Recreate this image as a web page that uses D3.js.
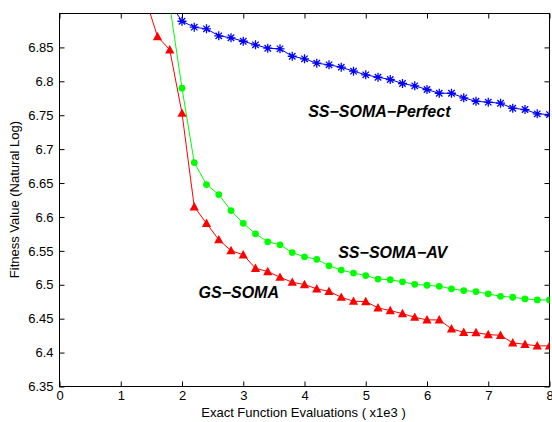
<!DOCTYPE html>
<html>
<head>
<meta charset="utf-8">
<script src="https://cdnjs.cloudflare.com/ajax/libs/d3/7.8.5/d3.min.js"></script>
<style>
body { margin: 0; background: #fff; }
svg text { font-family: "Liberation Sans", Arial, Helvetica, sans-serif; }
</style>
</head>
<body>
<script>
// function evaluations (x1e3)
var evalsGS = [1.4, 1.6, 1.8, 2.0, 2.2, 2.4, 2.6, 2.8, 3.0, 3.2, 3.4, 3.6, 3.8, 4.0, 4.2, 4.4, 4.6, 4.8,
               5.0, 5.2, 5.4, 5.6, 5.8, 6.0, 6.2, 6.4, 6.6, 6.8, 7.0, 7.2, 7.4, 7.6, 7.8, 8.0];
var evalsSS = [1.8, 2.0, 2.2, 2.4, 2.6, 2.8, 3.0, 3.2, 3.4, 3.6, 3.8, 4.0, 4.2, 4.4, 4.6, 4.8,
               5.0, 5.2, 5.4, 5.6, 5.8, 6.0, 6.2, 6.4, 6.6, 6.8, 7.0, 7.2, 7.4, 7.6, 7.8, 8.0];

var gsSoma = [6.923, 6.866, 6.8465, 6.753, 6.615, 6.5906, 6.5664, 6.5504, 6.5442, 6.5243, 6.5195, 6.5111,
              6.5037, 6.5003, 6.494, 6.4904, 6.4816, 6.4757, 6.4752, 6.4659, 6.4619, 6.4575, 6.4521, 6.4482,
              6.4482, 6.435, 6.4299, 6.4295, 6.4265, 6.4255, 6.4143, 6.4122, 6.4099, 6.4099];
var ssSomaAV = [6.912, 6.7898, 6.6802, 6.6478, 6.633, 6.6094, 6.5906, 6.5751, 6.5633, 6.559, 6.5475, 6.5412,
                6.5376, 6.528, 6.5217, 6.5173, 6.5136, 6.5084, 6.5074, 6.5044, 6.5006, 6.4993, 6.4978, 6.494,
                6.4914, 6.49, 6.4866, 6.483, 6.4816, 6.4792, 6.4777, 6.4777];
var ssSomaPerfect = [6.916, 6.8886, 6.8798, 6.8774, 6.8671, 6.8642, 6.8591, 6.8538, 6.8488, 6.8479, 6.837, 6.8332,
                     6.8267, 6.8243, 6.8208, 6.8149, 6.8096, 6.806, 6.8027, 6.7968, 6.7934, 6.7879, 6.7824, 6.7824,
                     6.7757, 6.7706, 6.7692, 6.7677, 6.7603, 6.7584, 6.7521, 6.751];

var xTicks = [0, 1, 2, 3, 4, 5, 6, 7, 8];
var yTicks = [6.35, 6.4, 6.45, 6.5, 6.55, 6.6, 6.65, 6.7, 6.75, 6.8, 6.85];
var xDomain = [0, 8];
var yDomain = [6.35, 6.9];

var labelNames = ["SS\u2212SOMA\u2212Perfect", "SS\u2212SOMA\u2212AV", "GS\u2212SOMA"];
var labelX = [4.06, 4.55, 2.27];
var labelY = [6.748, 6.54, 6.48];

var margin = {top: 13, right: 2, bottom: 36, left: 59},
    width = 552 - margin.left - margin.right,
    height = 422 - margin.top - margin.bottom,
    tick = 5;

var svg = d3.select("body").append("svg")
    .attr("width", 552)
    .attr("height", 422);

var g = svg.append("g")
    .attr("transform", "translate(" + (margin.left + 0.5) + "," + (margin.top + 0.5) + ")");

var x = d3.scaleLinear().domain(xDomain).range([0, width - 1]);
var y = d3.scaleLinear().domain(yDomain).range([height, 0]);

g.append("clipPath").attr("id", "plotclip")
    .append("rect")
    .attr("x", 0).attr("y", 0)
    .attr("width", width - 1).attr("height", height);

// axes, ticks pointing inwards on all four sides
var fmt = function(d) { return d3.format("~g")(d); };

g.append("g")
    .attr("transform", "translate(0," + height + ")")
    .call(d3.axisBottom(x).tickValues(xTicks).tickFormat(fmt).tickSizeInner(-tick).tickSizeOuter(0).tickPadding(4))
    .call(function(a) { a.select(".domain").remove(); });

g.append("g")
    .call(d3.axisTop(x).tickValues(xTicks).tickFormat("").tickSizeInner(-tick).tickSizeOuter(0))
    .call(function(a) { a.select(".domain").remove(); });

g.append("g")
    .call(d3.axisLeft(y).tickValues(yTicks).tickFormat(fmt).tickSizeInner(-tick).tickSizeOuter(0).tickPadding(6))
    .call(function(a) { a.select(".domain").remove(); });

g.append("g")
    .attr("transform", "translate(" + (width - 1) + ",0)")
    .call(d3.axisRight(y).tickValues(yTicks).tickFormat("").tickSizeInner(-tick).tickSizeOuter(0))
    .call(function(a) { a.select(".domain").remove(); });

g.selectAll(".tick line").attr("stroke", "#000");
g.selectAll(".tick text")
    .attr("font-size", 13)
    .attr("font-family", "Liberation Sans, Arial, sans-serif")
    .attr("fill", "#000");

g.append("rect")
    .attr("x", 0).attr("y", 0)
    .attr("width", width - 1).attr("height", height)
    .attr("fill", "none")
    .attr("stroke", "#000")
    .attr("stroke-width", 1);

// series
var series = [
    {xs: evalsSS, ys: ssSomaPerfect, color: "#0000ff", marker: "star"},
    {xs: evalsSS, ys: ssSomaAV, color: "#00ff00", marker: "circle"},
    {xs: evalsGS, ys: gsSoma, color: "#ff0000", marker: "triangle"}
];

var line = d3.line()
    .x(function(d) { return x(d[0]); })
    .y(function(d) { return y(d[1]); });

var plot = g.append("g").attr("clip-path", "url(#plotclip)");

series.forEach(function(s) {
    var pts = s.xs.map(function(v, i) { return [v, s.ys[i]]; });

    plot.append("path")
        .datum(pts)
        .attr("d", line)
        .attr("fill", "none")
        .attr("stroke", s.color)
        .attr("stroke-width", 1);

    var m = plot.append("g").selectAll("path.mk")
        .data(pts)
        .enter().append("path")
        .attr("class", "mk")
        .attr("transform", function(d) { return "translate(" + x(d[0]) + "," + y(d[1]) + ")"; });

    if (s.marker == "star") {
        m.attr("d", "M-4.5,0H4.5M0,-4.5V4.5M-3.2,-3.2L3.2,3.2M-3.2,3.2L3.2,-3.2")
            .attr("fill", "none")
            .attr("stroke", s.color)
            .attr("stroke-width", 1.3);
    } else if (s.marker == "circle") {
        m.attr("d", d3.symbol().type(d3.symbolCircle).size(36))
            .attr("fill", s.color);
    } else {
        m.attr("d", "M0,-4.8L4.6,3.6L-4.6,3.6Z")
            .attr("fill", s.color);
    }
});

// curve labels
g.selectAll("text.lbl")
    .data(labelNames)
    .enter().append("text")
    .attr("class", "lbl")
    .attr("x", function(d, i) { return x(labelX[i]); })
    .attr("y", function(d, i) { return y(labelY[i]); })
    .attr("font-size", 16)
    .attr("font-weight", "bold")
    .attr("font-style", "italic")
    .attr("fill", "#000")
    .text(function(d) { return d; });

// axis titles
svg.append("text")
    .attr("x", margin.left + width / 2 - 1)
    .attr("y", 417)
    .attr("text-anchor", "middle")
    .attr("font-size", 13)
    .text("Exact Function Evaluations ( x1e3 )");

svg.append("text")
    .attr("transform", "translate(19," + (margin.top + height / 2) + ") rotate(-90)")
    .attr("text-anchor", "middle")
    .attr("font-size", 13)
    .text("Fitness Value (Natural Log)");
</script>
</body>
</html>
